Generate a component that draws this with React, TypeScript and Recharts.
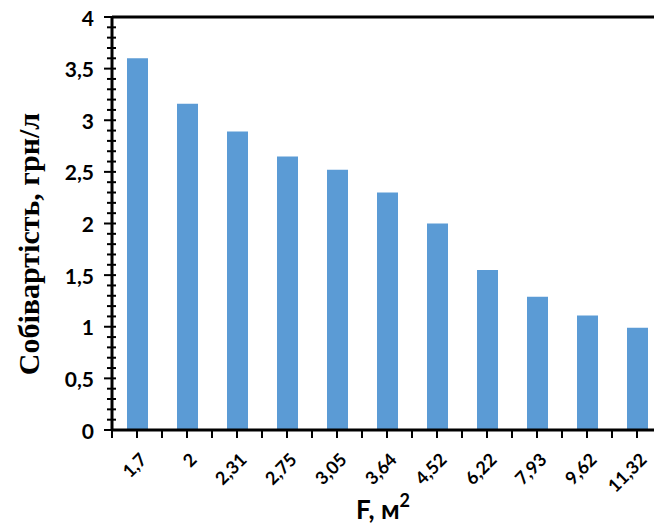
import { BarChart, Bar, XAxis, YAxis, ReferenceLine } from 'recharts'

const areas = ['1,7', '2', '2,31', '2,75', '3,05', '3,64', '4,52', '6,22', '7,93', '9,62', '11,32']
const costs = [3.6, 3.16, 2.89, 2.65, 2.52, 2.3, 2.0, 1.55, 1.29, 1.11, 0.99]
const majorTicks = [0, 0.5, 1, 1.5, 2, 2.5, 3, 3.5, 4]
const minorTicks = Array.from({ length: 41 }, (_, i) => i / 10)

const data = areas.map((name, i) => ({ name, cost: costs[i] }))

const isMajor = (v: number) => majorTicks.some((m) => Math.abs(m - v) < 1e-6)

const YTick = ({ x, y, payload }: any) => {
  const major = isMajor(payload.value)
  return (
    <g>
      <line x1={x + (major ? 0 : 3)} x2={x + 12} y1={y} y2={y} stroke="#000" strokeWidth={2} />
      {major && (
        <text
          x={x - 10}
          y={y}
          textAnchor="end"
          dominantBaseline="central"
          fontFamily="Lato, 'Open Sans', sans-serif"
          fontWeight="bold"
          fontSize={21}
          fill="#000"
        >
          {String(payload.value).replace('.', ',')}
        </text>
      )}
    </g>
  )
}

const XTick = ({ x, y, payload }: any) => {
  const half = payload.offset || 25
  return (
    <g>
      <line x1={x} x2={x} y1={y - 8} y2={y} stroke="#000" strokeWidth={2} />
      <line x1={x - half} x2={x - half} y1={y - 8} y2={y} stroke="#000" strokeWidth={2} />
      <text
        transform={`translate(${x + 6},${y + 18}) rotate(-45)`}
        textAnchor="end"
        dominantBaseline="central"
        fontFamily="Lato, 'Open Sans', sans-serif"
        fontWeight="bold"
        fontSize={18}
        fill="#000"
      >
        {payload.value}
      </text>
    </g>
  )
}

export default function App() {
  return (
    <div style={{ position: 'absolute', left: 0, top: 0, width: 654, height: 524, overflow: 'hidden', background: '#fff' }}>
      <BarChart width={662} height={524} data={data} margin={{ top: 17, right: 0, left: 0, bottom: 0 }} barSize={21}>
        <XAxis
          dataKey="name"
          height={94}
          interval={0}
          axisLine={{ stroke: '#000', strokeWidth: 3 }}
          tickLine={false}
          tick={<XTick />}
        />
        <YAxis
          domain={[0, 4]}
          ticks={minorTicks}
          interval={0}
          width={112}
          axisLine={{ stroke: '#000', strokeWidth: 3 }}
          tickLine={false}
          tick={<YTick />}
        />
        <ReferenceLine y={4} stroke="#000" strokeWidth={3} />
        <Bar dataKey="cost" fill="#5B9BD5" isAnimationActive={false} />
        <text
          transform="translate(28,244) rotate(-90)"
          textAnchor="middle"
          dominantBaseline="central"
          fontFamily="'Liberation Serif', 'Times New Roman', serif"
          fontWeight="bold"
          fontSize={30}
          fill="#000"
        >
          Собівартість, грн/л
        </text>
        <text
          x={383}
          y={509}
          textAnchor="middle"
          dominantBaseline="central"
          fontFamily="Lato, 'Open Sans', sans-serif"
          fontWeight="bold"
          fontSize={26}
          fill="#000"
        >
          F, м<tspan fontSize={18} dy={-9}>2</tspan>
        </text>
      </BarChart>
    </div>
  )
}
